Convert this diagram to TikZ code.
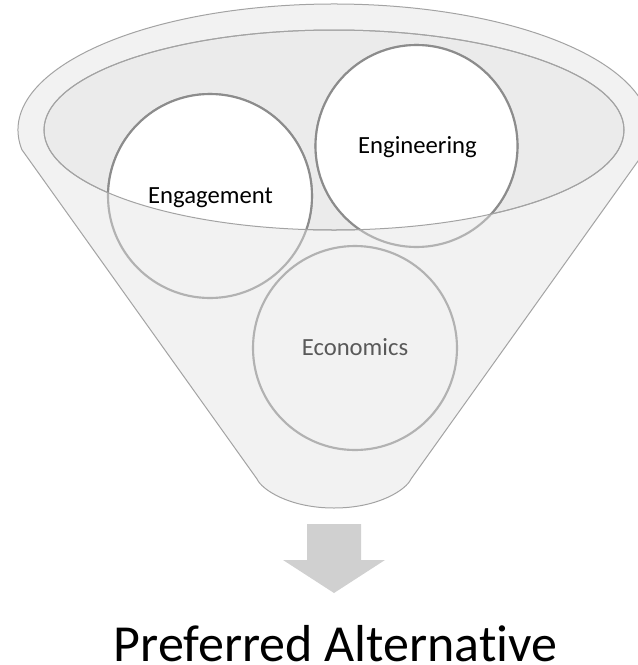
\documentclass[tikz,border=0pt]{standalone}
\usepackage{fontspec}
\setmainfont{Carlito}[Ligatures=NoCommon]
\definecolor{funnelfill}{HTML}{F2F2F2}
\definecolor{mouthfill}{HTML}{EBEBEB}
\definecolor{rimline}{HTML}{A3A3A3}
\definecolor{ringdark}{HTML}{8C8C8C}
\definecolor{ringlight}{HTML}{B2B2B2}
\definecolor{arrowgray}{HTML}{D0D0D0}
\definecolor{dimtext}{HTML}{595959}

\begin{document}
\begin{tikzpicture}[x=0.75pt,y=-0.75pt,
  rim/.style={draw=rimline, line width=0.75pt},
  ringback/.style={draw=ringlight, line width=1.6pt, fill=funnelfill},
  ringfront/.style={draw=ringdark, line width=1.6pt, fill=white},
  ringlabel/.style={font=\fontsize{18.5}{22}\selectfont, anchor=base, inner sep=0pt},
]
\useasboundingbox (0,0) rectangle (638,665);
\clip (0,0) rectangle (638,665);

% funnel body: rim arc, tapering sides and rounded spout
\path[rim, fill=funnelfill] (21.9,149.7)
  arc[start angle=171, end angle=369, x radius=316, y radius=126]
  -- (411,479) .. controls (406,490) and (378,508) .. (334,508)
  .. controls (290,508) and (262,490) .. (257,479) -- cycle;

% funnel mouth
\path[rim, fill=mouthfill] (334,130) ellipse [x radius=290, y radius=100];

% rings as seen through the funnel wall
\path[ringback] (210,196) circle[radius=102];
\path[ringback] (416.5,146) circle[radius=101];
\path[ringback] (355,348) circle[radius=102];

% parts of the rings that sit inside the mouth
\begin{scope}
  \clip (334,130) ellipse [x radius=290, y radius=100];
  \path[ringfront] (210,196) circle[radius=102];
  \path[ringfront] (416.5,146) circle[radius=101];
\end{scope}
\path[rim] (334,130) ellipse [x radius=290, y radius=100];

% ring labels
\node[ringlabel] (engagement) at (210.5,203) {Engagement};
\node[ringlabel] (engineering) at (417.5,153) {Engineering};
\node[ringlabel, text=dimtext] (economics) at (355,355) {Economics};

% output arrow
\path[fill=arrowgray] (307,524) -- (361,524) -- (361,560) -- (385,560)
  -- (334,593) -- (283,560) -- (307,560) -- cycle;

% result (no descenders, so no depth below the baseline)
\node[font=\fontsize{39}{47}\selectfont, anchor=base, inner sep=0pt,
  text depth=0pt] (result) at (335.5,661) {Preferred Alternative};
\end{tikzpicture}
\end{document}
